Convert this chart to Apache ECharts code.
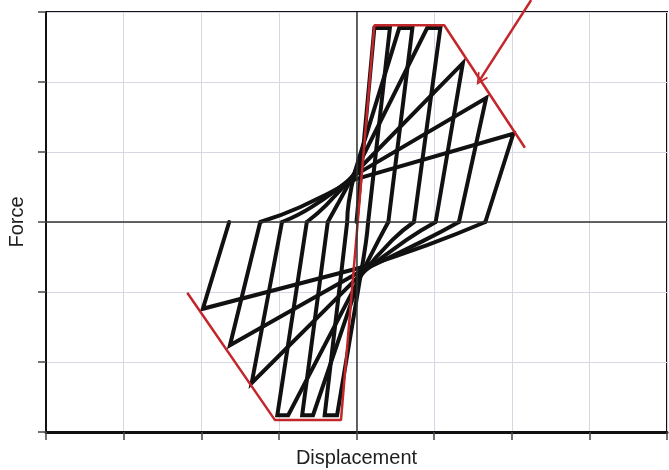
<!DOCTYPE html>
<html>
<head>
<meta charset="utf-8">
<script src="https://cdn.jsdelivr.net/npm/echarts@6/dist/echarts.min.js"></script>
<style>
  html, body { margin: 0; padding: 0; background: #fff; }
  #chart { width: 669px; height: 470px; }
</style>
</head>
<body>
<div id="chart"></div>
<script>
// positive peaks of each cycle (displacement, force); capX = where the force cap is reached
const posCapX  = [0.23, 0.55, 0.91, null, null, null];
const posPeakX = [0.43, 0.72, 1.08, 1.37, 1.67, 2.02];
const posPeakY = [2.77, 2.77, 2.77, 2.27, 1.77, 1.26];
const posResX  = [0.15, 0.41, 0.74, 1.02, 1.32, 1.66];

// negative peaks
const negCapX  = [-0.25, -0.56, -0.88, null, null, null];
const negPeakX = [-0.41, -0.70, -1.02, -1.35, -1.63, -1.98];
const negPeakY = [-2.76, -2.76, -2.76, -2.30, -1.76, -1.24];
const negResX  = [-0.12, -0.37, -0.64, -0.96, -1.24, -1.64];

// reloading towards the lower pinch (after each positive peak)
const downBend1 = [[0.12, -0.30], [0.28, -0.27], [0.46, -0.26], [0.64, -0.26], [0.86, -0.27], [0.91, -0.33]];
const downBend2 = [[0.05, -0.78], [0.05, -0.77], [0.06, -0.76], [0.06, -0.74], [0.06, -0.70], [0.06, -0.65]];

// reloading towards the upper pinch (after negative peaks 1..5)
const upBend1 = [[-0.10, 0.28], [-0.24, 0.26], [-0.39, 0.24], [-0.57, 0.22], [-0.73, 0.21]];
const upBend2 = [[-0.02, 0.72], [-0.02, 0.71], [-0.02, 0.70], [-0.02, 0.67], [-0.02, 0.61]];

// red envelope and arrow
const envelope = [[-2.18, -1.01], [-1.05, -2.83], [-0.20, -2.83], [0.23, 2.81], [1.13, 2.81], [2.17, 1.06]];
const arrow = [[2.25, 3.17], [1.59, 2.03]];

const xMin = -4, xMax = 4, yMin = -3, yMax = 3;

// split the hysteresis path into straight (unloading) and curved (pinched reloading) pieces
const pieces = [];
for (let i = 0; i < posPeakX.length; i++) {
  let start = [0, 0];
  if (i > 0) {
    pieces.push({ pts: [[negResX[i - 1], 0], upBend1[i - 1], upBend2[i - 1]], smooth: true });
    start = upBend2[i - 1];
  }
  const up = [start];
  if (posCapX[i] !== null) up.push([posCapX[i], posPeakY[i]]);
  up.push([posPeakX[i], posPeakY[i]], [posResX[i], 0]);
  pieces.push({ pts: up, smooth: false });

  pieces.push({ pts: [[posResX[i], 0], downBend1[i], downBend2[i]], smooth: true });
  const down = [downBend2[i]];
  if (negCapX[i] !== null) down.push([negCapX[i], negPeakY[i]]);
  down.push([negPeakX[i], negPeakY[i]], [negResX[i], 0]);
  pieces.push({ pts: down, smooth: false });
}

const red = '#c3262b';
const chart = echarts.init(document.getElementById('chart'));

const curveSeries = pieces.map(p => ({
  type: 'line', data: p.pts, z: 3,
  smooth: p.smooth ? 0.5 : false,
  showSymbol: false, symbol: 'none',
  lineStyle: { color: '#111', width: 4, join: 'miter', cap: 'round' }
}));

const option = {
  animation: false,
  grid: {
    left: 46, right: 2, top: 12, bottom: 38,
    outerBoundsMode: 'none', containLabel: false,
    show: true, borderColor: '#111', borderWidth: 2
  },
  xAxis: {
    type: 'value', min: xMin, max: xMax, interval: 1,
    name: 'Displacement', nameLocation: 'middle', nameGap: 16,
    nameTextStyle: { fontFamily: 'Liberation Sans, Arial, sans-serif', fontSize: 20, color: '#1e1e1e' },
    axisLine: { show: true, onZero: false, lineStyle: { color: '#111', width: 3 } },
    axisTick: { show: true, length: 8, lineStyle: { color: '#444', width: 1.5 } },
    axisLabel: { show: false },
    splitLine: { show: true, lineStyle: { color: '#d6d6e4', width: 1 } }
  },
  yAxis: {
    type: 'value', min: yMin, max: yMax, interval: 1,
    name: 'Force', nameLocation: 'middle', nameGap: 19,
    nameTextStyle: { fontFamily: 'Liberation Sans, Arial, sans-serif', fontSize: 20, color: '#1e1e1e' },
    axisLine: { show: true, onZero: false, lineStyle: { color: '#111', width: 2 } },
    axisTick: { show: true, length: 8, lineStyle: { color: '#444', width: 1.5 } },
    axisLabel: { show: false },
    splitLine: { show: true, lineStyle: { color: '#d6d6e4', width: 1 } }
  },
  series: [
    {
      // zero lines
      type: 'line', data: [], z: 1,
      markLine: {
        silent: true, symbol: 'none', label: { show: false },
        lineStyle: { color: '#333', width: 1.5, type: 'solid' },
        data: [{ xAxis: 0 }, { yAxis: 0 }]
      }
    },
    ...curveSeries,
    {
      type: 'line', data: envelope, z: 4,
      showSymbol: false, symbol: 'none',
      lineStyle: { color: red, width: 2.5 }
    },
    {
      type: 'lines', coordinateSystem: 'cartesian2d', z: 5, clip: false,
      symbol: ['none', 'path://M0,12 L5,0 L10,12 L8.5,12 L5,4 L1.5,12 Z'],
      symbolSize: [9, 12],
      lineStyle: { color: red, width: 2.5, opacity: 1, curveness: 0 },
      data: [{ coords: arrow }]
    }
  ]
};

chart.setOption(option);
</script>
</body>
</html>
